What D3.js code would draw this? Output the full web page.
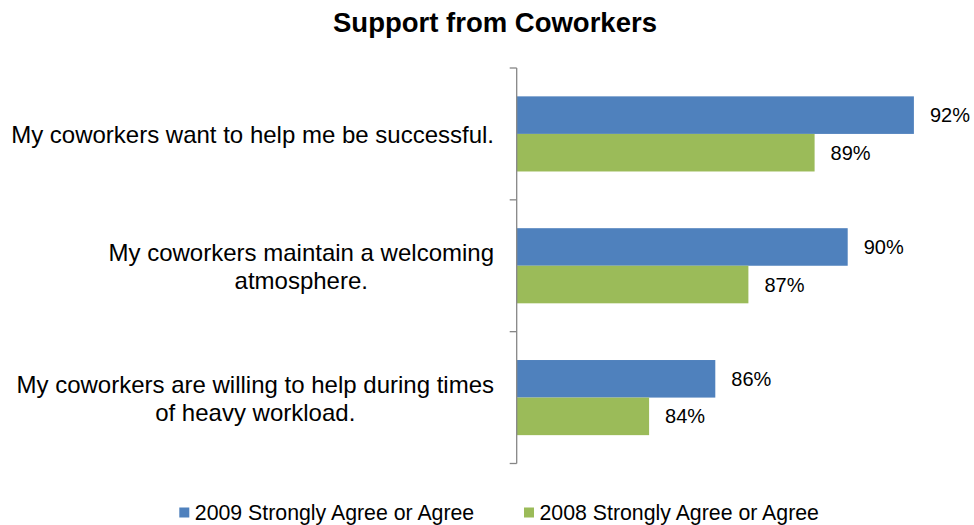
<!DOCTYPE html>
<html>
<head>
<meta charset="utf-8">
<script src="https://cdn.jsdelivr.net/npm/d3@7"></script>
<style>
  html, body { margin: 0; padding: 0; background: #fff; }
  svg { display: block; font-family: "Liberation Sans", Arial, Helvetica, sans-serif; }
</style>
</head>
<body>
<svg id="chart" width="974" height="525"></svg>
<script>
// Survey statements (each entry is a list of wrapped label lines)
const categories = [
  ["My coworkers want to help me be successful."],
  ["My coworkers maintain a welcoming", "atmosphere."],
  ["My coworkers are willing to help during times", "of heavy workload."]
];
const seriesNames = ["2009 Strongly Agree or Agree", "2008 Strongly Agree or Agree"];
const values2009 = [92, 90, 86];
const values2008 = [89, 87, 84];
const colors = ["#4F81BD", "#9BBB59"];

const svg = d3.select("#chart");

const plot = { left: 516.7, top: 68, bottom: 463.5 };

// Horizontal value scale (axis itself is hidden; bars start at 80%)
const x = d3.scaleLinear().domain([80, 100]).range([plot.left, plot.left + 662]);

// Category bands
const y = d3.scaleBand()
  .domain(d3.range(categories.length))
  .range([plot.top, plot.bottom])
  .paddingInner(0).paddingOuter(0);

// Two bars per band, gap width ~150%
const inner = d3.scaleBand()
  .domain([0, 1])
  .range([0, y.step()])
  .paddingInner(0)
  .paddingOuter(0.755);

const series = [values2009, values2008];

// Title
svg.append("text")
  .attr("x", 495).attr("y", 32)
  .attr("text-anchor", "middle")
  .attr("font-size", 27.5).attr("font-weight", "bold")
  .attr("fill", "#000")
  .text("Support from Coworkers");

// Bars
series.forEach((vals, si) => {
  svg.append("g").selectAll("rect")
    .data(vals)
    .join("rect")
    .attr("x", x(80))
    .attr("y", (d, i) => y(i) + inner(si))
    .attr("width", d => x(d) - x(80))
    .attr("height", inner.bandwidth())
    .attr("fill", colors[si]);

  // Value labels
  svg.append("g").selectAll("text")
    .data(vals)
    .join("text")
    .attr("x", d => x(d) + 16)
    .attr("y", (d, i) => y(i) + inner(si) + inner.bandwidth() / 2)
    .attr("dy", "0.35em")
    .attr("font-size", 20)
    .attr("fill", "#000")
    .text(d => d + "%");
});

// Vertical category axis with tick marks at band boundaries
const axisG = svg.append("g").attr("stroke", "#868686").attr("stroke-width", 1.3);
axisG.append("line")
  .attr("x1", plot.left).attr("x2", plot.left)
  .attr("y1", plot.top).attr("y2", plot.bottom);
const boundaries = d3.range(categories.length + 1).map(i => plot.top + i * y.step());
axisG.selectAll("line.tick")
  .data(boundaries)
  .join("line")
  .attr("class", "tick")
  .attr("x1", plot.left - 7).attr("x2", plot.left)
  .attr("y1", d => d).attr("y2", d => d);

// Category labels: block right-aligned to the axis, lines centred within the block
const lineH = 27.6;
const labelRight = 494;
categories.forEach((lines, i) => {
  const g = svg.append("g");
  const cy = y(i) + y.bandwidth() / 2 + 1;
  const texts = g.selectAll("text")
    .data(lines)
    .join("text")
    .attr("font-size", 24)
    .attr("fill", "#000")
    .attr("text-anchor", "middle")
    .attr("dy", "0.35em")
    .attr("y", (d, k) => cy + (k - (lines.length - 1) / 2) * lineH)
    .text(d => d);
  const maxW = d3.max(texts.nodes(), n => n.getComputedTextLength());
  texts.attr("x", labelRight - maxW / 2);
});

// Legend
const legendX = [179.3, 524];
seriesNames.forEach((name, si) => {
  const g = svg.append("g").attr("transform", `translate(${legendX[si]},0)`);
  g.append("rect")
    .attr("x", 0).attr("y", 507.5)
    .attr("width", 10).attr("height", 10)
    .attr("fill", colors[si]);
  g.append("text")
    .attr("x", 15.5).attr("y", 513)
    .attr("dy", "0.35em")
    .attr("font-size", 21.3)
    .attr("fill", "#000")
    .text(name);
});
</script>
</body>
</html>
